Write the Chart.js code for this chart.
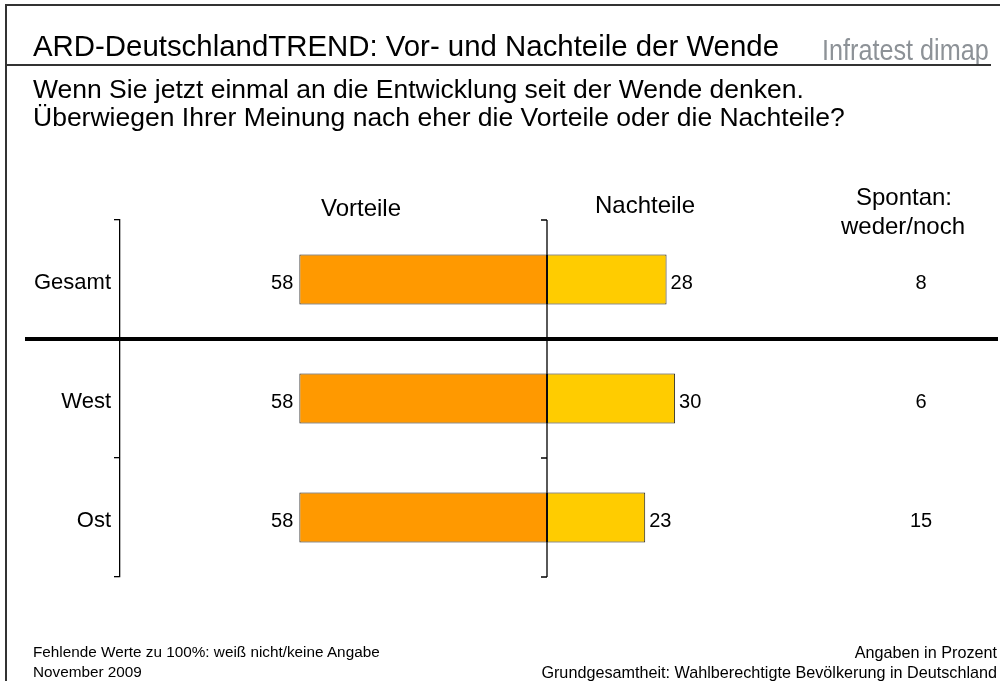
<!DOCTYPE html>
<html><head><meta charset="utf-8">
<script src="https://cdn.jsdelivr.net/npm/chart.js@4"></script>
<style>
html,body{margin:0;padding:0;background:#fff;}
#wrap{position:relative;width:1000px;height:681px;overflow:hidden;font-family:"Liberation Sans",Arial,sans-serif;color:#000;}
canvas{position:absolute;left:0;top:0;}
.t{position:absolute;white-space:nowrap;}
</style></head><body>
<div id="wrap">
<canvas id="c" width="1000" height="681"></canvas>
<div style="position:absolute;left:6px;top:4px;width:994px;height:2px;background:#333;"></div>
<div style="position:absolute;left:5px;top:4px;width:2px;height:677px;background:#333;"></div>
<div class="t" style="left:33px;top:31px;font-size:29.4px;line-height:29px;">ARD-DeutschlandTREND: Vor- und Nachteile der Wende</div>
<div class="t" style="left:822px;top:35px;font-size:30px;line-height:30px;color:#8d9297;transform:scaleX(0.84);transform-origin:0 0;">Infratest dimap</div>
<div style="position:absolute;left:7px;top:64px;width:984px;height:2px;background:#333;"></div>
<div class="t" style="left:33px;top:75px;font-size:26.5px;line-height:28px;">Wenn Sie jetzt einmal an die Entwicklung seit der Wende denken.<br>Überwiegen Ihrer Meinung nach eher die Vorteile oder die Nachteile?</div>
<div class="t" style="left:33px;top:642px;font-size:15.3px;line-height:20px;">Fehlende Werte zu 100%: weiß nicht/keine Angabe<br>November 2009</div>
<div class="t" style="right:3px;top:642px;font-size:16.2px;line-height:20px;text-align:right;">Angaben in Prozent<br>Grundgesamtheit: Wahlberechtigte Bevölkerung in Deutschland</div>
</div>
<script>
const categories = ["Gesamt", "West", "Ost"];
const vorteile = [58, 58, 58];
const nachteile = [28, 30, 23];
const spontan = [8, 6, 15];
const headers = {vor: "Vorteile", nach: "Nachteile", spontan: ["Spontan:", "weder/noch"]};

const FONT = '"Liberation Sans", Arial, sans-serif';

const overlay = {
  id: 'overlay',
  afterDatasetsDraw(chart) {
    const ctx = chart.ctx;
    const x = chart.scales.x, y = chart.scales.y;
    const ca = chart.chartArea;
    const x0 = x.getPixelForValue(0);
    ctx.save();
    ctx.strokeStyle = '#000';
    ctx.lineWidth = 1.3;
    ctx.beginPath();
    ctx.moveTo(x0, ca.top); ctx.lineTo(x0, ca.bottom);
    const bounds = [];
    for (let i = 0; i <= categories.length; i++) {
      const yy = i === 0 ? ca.top : (i === categories.length ? ca.bottom : (y.getPixelForValue(i - 1) + y.getPixelForValue(i)) / 2);
      bounds.push(yy);
      ctx.moveTo(x0 - 6, yy); ctx.lineTo(x0, yy);
    }
    ctx.stroke();
    ctx.lineWidth = 4;
    ctx.beginPath();
    ctx.moveTo(25, bounds[1]); ctx.lineTo(998, bounds[1]);
    ctx.stroke();
    ctx.fillStyle = '#000';
    ctx.font = '20px ' + FONT;
    ctx.textBaseline = 'middle';
    const m0 = chart.getDatasetMeta(0), m1 = chart.getDatasetMeta(1);
    categories.forEach((c, i) => {
      const yc = y.getPixelForValue(i) + 4;
      ctx.textAlign = 'right';
      ctx.fillText(String(vorteile[i]), m0.data[i].x - 6, yc);
      ctx.textAlign = 'left';
      ctx.fillText(String(nachteile[i]), m1.data[i].x + 4, yc);
      ctx.textAlign = 'center';
      ctx.fillText(String(spontan[i]), 921, yc);
    });
    ctx.font = '24px ' + FONT;
    ctx.textAlign = 'center';
    ctx.fillText(headers.vor, 361, 209);
    ctx.fillText(headers.nach, 645, 206);
    ctx.fillText(headers.spontan[0], 904, 198);
    ctx.fillText(headers.spontan[1], 903, 227);
    ctx.restore();
  }
};

new Chart(document.getElementById('c'), {
  type: 'bar',
  data: {
    labels: categories,
    datasets: [
      {label: 'Vorteile', data: vorteile.map(v => -v), backgroundColor: '#FF9900', borderColor: '#222', borderWidth: 1, borderSkipped: false},
      {label: 'Nachteile', data: nachteile, backgroundColor: '#FFCC00', borderColor: '#222', borderWidth: 1, borderSkipped: false}
    ]
  },
  options: {
    indexAxis: 'y',
    responsive: false,
    animation: false,
    devicePixelRatio: 1,
    layout: {padding: {top: 220, bottom: 104, left: 0, right: 26}},
    datasets: {bar: {categoryPercentage: 1, barPercentage: 0.42}},
    plugins: {legend: {display: false}, tooltip: {enabled: false}, title: {display: false}},
    scales: {
      x: {display: false, stacked: true, min: -100, max: 100},
      y: {
        stacked: true,
        afterFit(s) { s.width = 120; },
        border: {display: true, color: '#000', width: 1.3},
        grid: {drawOnChartArea: false, offset: true, tickLength: 6, color: '#000', lineWidth: 1.3},
        ticks: {color: '#000', font: {size: 22, family: FONT}, padding: 3, labelOffset: 3}
      }
    }
  },
  plugins: [overlay]
});
</script>
</body></html>
